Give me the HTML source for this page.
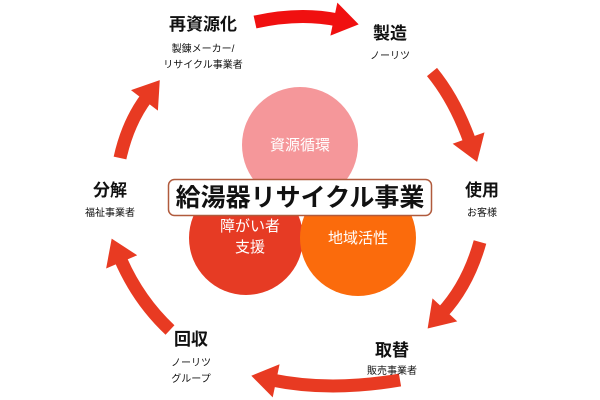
<!DOCTYPE html>
<html><head><meta charset="utf-8"><style>
body{margin:0;width:600px;height:400px;background:#fff;overflow:hidden}
svg{display:block}
text{font-family:"Liberation Sans","Noto Sans CJK JP",sans-serif;text-anchor:middle}
</style></head><body>
<svg width="600" height="400" viewBox="0 0 600 400">
<defs>
<marker id="ha" markerUnits="strokeWidth" markerWidth="2.6" markerHeight="2.6" refX="0.3" refY="1.2" orient="auto" viewBox="0 0 2 2.4"><path d="M0,0 L1.8,1.2 L0,2.4 Z" fill="#e83a22"/></marker>
<marker id="hb" markerUnits="strokeWidth" markerWidth="2.6" markerHeight="2.6" refX="0.3" refY="1.2" orient="auto" viewBox="0 0 2 2.4"><path d="M0,0 L1.8,1.2 L0,2.4 Z" fill="#f01010"/></marker>
</defs>
<g fill="none" stroke-width="13">
<path d="M255,22 Q300,12 338,20" stroke="#f01010" marker-end="url(#hb)"/>
<path d="M432,72 Q455,100 470,142" stroke="#e83a22" marker-end="url(#ha)"/>
<path d="M480,242 Q468,285 442,313" stroke="#e83a22" marker-end="url(#ha)"/>
<path d="M400,380 Q330,392 272,380" stroke="#e83a22" marker-end="url(#ha)"/>
<path d="M170,330 Q138,300 120,258" stroke="#e83a22" marker-end="url(#ha)"/>
<path d="M120,158 Q128,122 147,97" stroke="#e83a22" marker-end="url(#ha)"/>
</g>
<circle cx="300" cy="145" r="58" fill="#f5979a"/>
<circle cx="246" cy="238" r="57" fill="#e63b24"/>
<circle cx="358" cy="238" r="58" fill="#fb6b0c"/>
<text x="300" y="150" font-size="15" fill="#fff">資源循環</text>
<text x="250" y="231" font-size="15" fill="#fff">障がい者</text>
<text x="250" y="252" font-size="15" fill="#fff">支援</text>
<text x="358" y="243" font-size="15" fill="#fff">地域活性</text>
<rect x="168.5" y="179.5" width="263" height="36" rx="6" fill="#fff" stroke="#b05a3c" stroke-width="1.5"/>
<text x="300" y="206" font-size="25" font-weight="bold" fill="#111">給湯器リサイクル事業</text>
<g fill="#111">
<text x="203" y="30" font-size="17" font-weight="bold">再資源化</text>
<text x="203" y="52" font-size="10">製錬メーカー/</text>
<text x="203" y="68" font-size="10">リサイクル事業者</text>
<text x="390" y="39" font-size="17" font-weight="bold">製造</text>
<text x="390" y="59" font-size="10">ノーリツ</text>
<text x="482" y="196" font-size="17" font-weight="bold">使用</text>
<text x="482" y="216" font-size="10">お客様</text>
<text x="392" y="356" font-size="17" font-weight="bold">取替</text>
<text x="392" y="374" font-size="10">販売事業者</text>
<text x="191" y="345" font-size="17" font-weight="bold">回収</text>
<text x="191" y="366" font-size="10">ノーリツ</text>
<text x="191" y="382" font-size="10">グループ</text>
<text x="110" y="196" font-size="17" font-weight="bold">分解</text>
<text x="110" y="216" font-size="10">福祉事業者</text>
</g>
</svg>
</body></html>
